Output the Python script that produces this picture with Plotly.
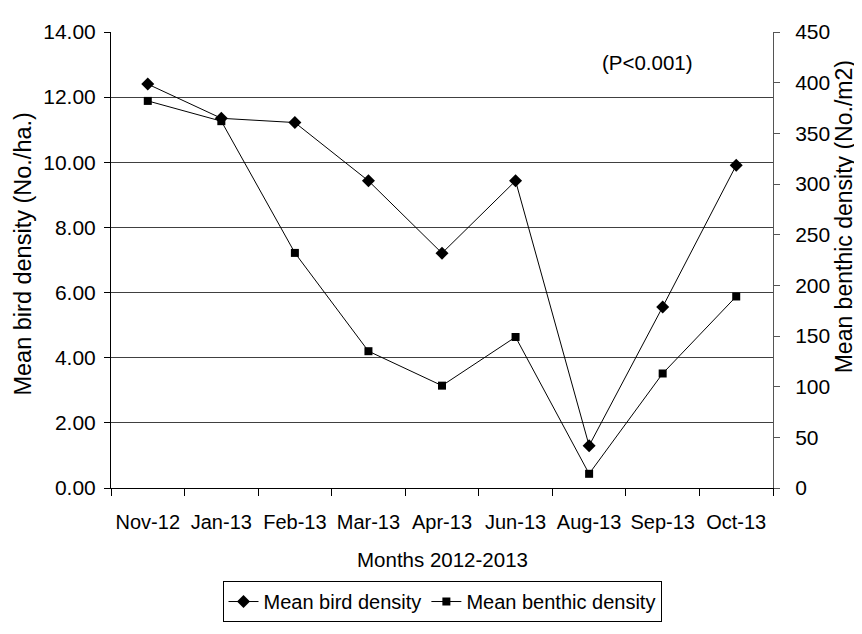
import plotly.graph_objects as go

months = ["Nov-12", "Jan-13", "Feb-13", "Mar-13", "Apr-13", "Jun-13", "Aug-13", "Sep-13", "Oct-13"]
bird_density = [12.40, 11.35, 11.22, 9.43, 7.21, 9.43, 1.30, 5.56, 9.91]
benthic_density = [382, 362, 232, 135, 101, 149, 14, 113, 189]
left_ticks = [0, 2, 4, 6, 8, 10, 12, 14]
right_ticks = [0, 50, 100, 150, 200, 250, 300, 350, 400, 450]

FONT = "Arial, Liberation Sans, sans-serif"

fig = go.Figure()
fig.add_trace(go.Scatter(
    x=months, y=bird_density, name="Mean bird density",
    mode="lines+markers",
    line=dict(color="black", width=1),
    marker=dict(symbol="diamond", size=10, color="black"),
    yaxis="y",
))
fig.add_trace(go.Scatter(
    x=months, y=benthic_density, name="Mean benthic density",
    mode="lines+markers",
    line=dict(color="black", width=1),
    marker=dict(symbol="square", size=8, color="black"),
    yaxis="y2",
))

# page body has an 8px margin, so the figure is 8px smaller than the window
fig.update_layout(
    width=854, height=626,
    margin=dict(l=103, r=89, t=16, b=145),
    paper_bgcolor="white", plot_bgcolor="white",
    font=dict(family=FONT, size=20, color="black"),
    xaxis=dict(
        type="category", range=[-0.5, 8.5],
        showline=True, linecolor="black", linewidth=1,
        ticks="outside", ticklen=7, tickcolor="black", tickson="boundaries",
        showgrid=False, tickfont=dict(size=20), tickangle=0, ticklabelstandoff=16,
    ),
    yaxis=dict(
        range=[0, 14], tickvals=left_ticks, tickformat=".2f",
        showline=True, linecolor="black", linewidth=1,
        ticks="outside", ticklen=6, tickcolor="black",
        showgrid=True, gridcolor="#404040", gridwidth=1,
        zeroline=False, tickfont=dict(size=21), ticklabelstandoff=4,
    ),
    yaxis2=dict(
        range=[0, 450], tickvals=right_ticks, overlaying="y", side="right",
        showline=True, linecolor="#555555", linewidth=1,
        ticks="outside", ticklen=6, tickcolor="#555555",
        showgrid=False, zeroline=False, tickfont=dict(size=21), ticklabelstandoff=11,
    ),
    legend=dict(
        orientation="h", x=0.5, xanchor="center", y=-0.204, yanchor="top",
        bordercolor="black", borderwidth=1, font=dict(size=20),
        itemwidth=30, bgcolor="white",
    ),
    annotations=[
        dict(text="Mean bird density (No./ha.)", x=-0.1329, y=0.512, xref="paper", yref="paper",
             textangle=-90, showarrow=False, font=dict(size=23.5), xanchor="center", yanchor="middle"),
        dict(text="Mean benthic density (No./m2)", x=1.1075, y=0.594, xref="paper", yref="paper",
             textangle=-90, showarrow=False, font=dict(size=23), xanchor="center", yanchor="middle"),
        dict(text="Months 2012-2013", x=0.5, y=-0.157, xref="paper", yref="paper",
             showarrow=False, font=dict(size=20.5), xanchor="center", yanchor="middle"),
        dict(text="(P<0.001)", x=0.811, y=0.933, xref="paper", yref="paper",
             showarrow=False, font=dict(size=20.5), xanchor="center", yanchor="middle"),
    ],
)

fig.write_html("out.html")
